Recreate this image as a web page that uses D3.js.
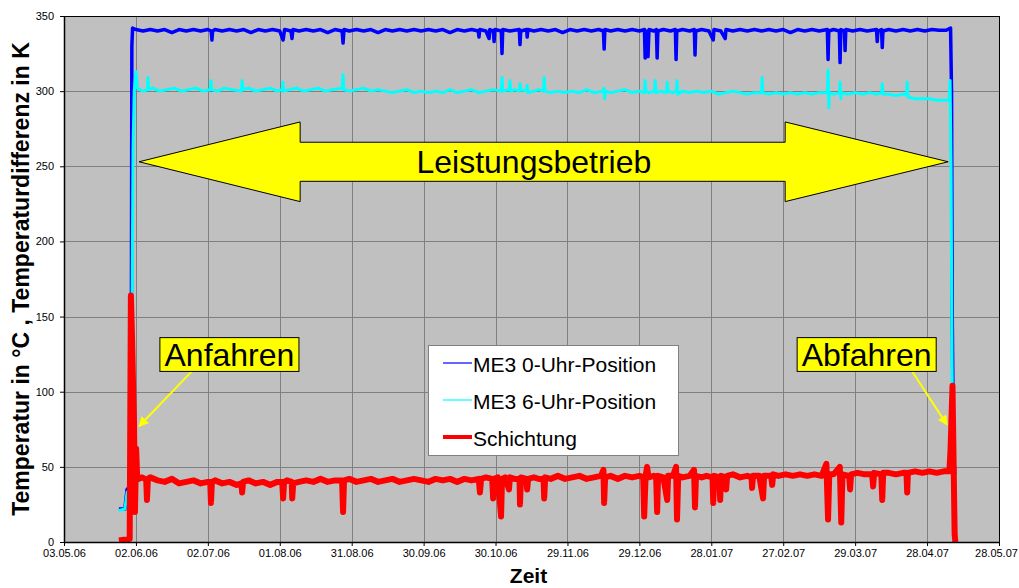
<!DOCTYPE html>
<html>
<head>
<meta charset="UTF-8">
<title></title>
<script src="https://cdn.jsdelivr.net/npm/d3@7/dist/d3.min.js"></script>
<style>
  body { margin: 0; background: #fff; }
  text { font-family: Arial, "Liberation Sans", sans-serif; }
</style>
</head>
<body>
<div id="chart"></div>
<script>
// Daten: [Tag seit 03.05.06, Wert]
var startDatum = "03.05.06";
var xTickLabels = ["03.05.06","02.06.06","02.07.06","01.08.06","31.08.06","30.09.06","30.10.06",
  "29.11.06","29.12.06","28.01.07","27.02.07","29.03.07","28.04.07","28.05.07"];
var yTicks = [0, 50, 100, 150, 200, 250, 300, 350];
var seriesNames = ["ME3 0-Uhr-Position", "ME3 6-Uhr-Position", "Schichtung"];

var me3_0Uhr = [[22.9,22],[25.4,22],[26.3,35],[27.5,37],[28,40],[28.3,330],[28.6,342],[30,341],[33,340],[36,341],[39,340],[42,341],[45,339],[48,341],[51,340],[54,341],[57,340],[60,341],[61.4,340],[61.7,334],[62,340],[63,341],[66,340],[69,341],[72,340],[75,341],[78,339],[81,341],[84,340],[87,341],[90,340],[91.4,334],[92,341],[94.7,340],[95.1,335],[95.5,341],[98,340],[101,341],[104,340],[107,341],[110,339],[113,341],[116,340],[116.4,332],[116.8,341],[119,340],[122,341],[125,340],[128,341],[131,339],[134,341],[137,340],[140,341],[143,340],[146,341],[149,340],[152,341],[155,340],[158,341],[161,339],[164,341],[167,340],[170,341],[172.8,340],[173.1,336],[173.4,341],[176,340],[177.3,335],[177.6,341],[179.1,340],[179.4,333],[179.7,341],[182.4,340],[182.7,325],[183,341],[186,340],[189.9,341],[190.2,331],[190.5,340],[193,341],[193.2,336],[193.5,341],[196,340],[199,341],[202,340],[205,341],[208,339],[211,341],[214,340],[217,341],[220,340],[223,341],[225,340],[225.3,328],[225.6,341],[228,340],[231,341],[234,340],[237,341],[240,340],[242.1,341],[242.4,322],[242.8,340],[243.6,323],[244,341],[246,340],[247.1,341],[247.4,322],[247.7,340],[250,341],[253,340],[255,341],[255.3,321],[255.6,340],[258,341],[261,340],[262.9,341],[263.2,324],[263.5,340],[266,341],[269,340],[270.8,334],[271.1,341],[274,340],[275.8,335],[276.1,341],[279,340],[282,341],[285,340],[288,341],[291,340],[294,341],[297,340],[300,341],[303,339],[306,341],[309,340],[312,341],[315,340],[318.4,341],[318.7,321],[319,340],[321,341],[323.4,340],[323.7,319],[324,341],[325.5,340],[325.8,327],[326.1,341],[329,340],[332,341],[335,340],[338.9,341],[339.2,333],[339.5,340],[341,341],[341.3,329],[341.6,340],[344,341],[347,340],[350,341],[353,340],[356,341],[359,340],[362,341],[365,340.5],[368,340.5],[369.8,342],[370.2,300],[370.5,150],[371,60],[371.6,45]];

var me3_6Uhr = [[22.9,21],[25.4,22],[26.3,33],[27.5,35],[28,38],[28.4,160],[28.8,262],[29.3,300],[30,313],[30.6,302],[31.5,301],[33,300],[34.8,301],[35,309],[35.3,301],[37,302],[40,300],[43,301],[46,302],[49,300],[52,301],[55,302],[58,300],[61,301],[61.3,307],[61.6,301],[64,300],[67,302],[70,301],[74,300],[74.3,307],[74.6,301],[77,302],[80,300],[83,301],[86,302],[89,300],[91,301],[91.3,306],[91.6,300],[94,301],[97,302],[100,300],[103,301],[106,302],[109,300],[112,301],[116.1,302],[116.4,311],[116.7,301],[119,300],[122,301],[125,302],[128,300],[131,301],[134,300],[137,299],[140,300],[143,301],[146,299],[149,300],[152,299],[155,300],[158,299],[161,301],[164,299],[167,300],[170,301],[173,299],[176,300],[179,301],[182.4,300],[182.7,309],[183,300],[185.7,301],[186,307],[186.3,300],[188,301],[190,300],[190.2,305],[190.5,301],[193,300],[193.2,304],[193.5,299],[196,300],[198,301],[200,300],[200.3,309],[200.6,300],[203,299],[206,300],[209,299],[212,300],[215,299],[218,301],[221,299],[225,300],[225.2,302],[225.5,295],[225.8,300],[228,299],[231,300],[234,301],[237,299],[240,300],[242.1,299],[242.4,307],[242.7,300],[244,299],[246.3,300],[246.6,307],[246.9,299],[249,300],[251.3,299],[251.6,306],[251.9,300],[254,299],[255.4,300],[255.7,307],[256,298],[258,300],[261,299],[264,300],[267,299],[270,300],[273,298],[276,299],[279,300],[282,299],[285,298],[288,299],[291,299],[291.2,309],[291.5,299],[294,298],[297,299],[300,298],[303,299],[306,298],[309,299],[312,298],[315,299],[318.4,299],[318.7,314],[319,289],[319.3,299],[321,298],[323.5,299],[323.7,306],[324,295],[324.3,299],[327,298],[330,299],[333,298],[336,299],[339,298],[341.1,299],[341.3,305],[341.6,298],[344,298],[347,297],[350,298],[351.5,298],[351.7,306],[352,296],[355,295],[358,295],[361,295],[364,294],[367,294],[369.2,294],[369.6,307],[370,250],[370.4,120],[370.8,60],[371.6,45]];

var schichtung = [[22.9,1],[25,1.5],[27.4,2],[27.9,164],[28.4,135],[28.8,105],[29.2,80],[29.6,20],[30.1,62],[30.5,44],[31.3,42],[32.5,43],[33.8,42],[34.3,41],[34.6,28],[35,42],[36,43],[39,41],[42,40],[45,42],[48,39],[51,40],[54,41],[57,39],[60,40],[61,40],[61.3,26],[61.7,40],[63,41],[66,39],[69,40],[72,38],[74,39],[74.3,33],[74.7,40],[77,41],[80,39],[83,40],[86,38],[89,40],[91,40],[91.4,29],[91.8,40],[93,41],[95,40],[95.2,29],[95.6,39],[98,40],[101,41],[104,40],[107,42],[110,40],[113,41],[116,41],[116.4,20],[116.8,41],[119,42],[122,40],[125,41],[128,42],[131,40],[134,41],[137,42],[140,40],[143,41],[146,42],[149,41],[152,40],[155,42],[158,41],[161,42],[164,40],[167,42],[170,41],[173,42],[173.5,33],[174,42],[176,43],[178.6,42],[179,29],[179.4,42],[181,43],[182.3,17],[182.7,42],[184,43],[185.6,35],[186,43],[188,42],[190,42],[190.2,25],[190.6,43],[192.8,42],[193.2,35],[193.6,42],[196,43],[198,42],[200,42],[200.3,29],[200.7,43],[203,42],[206,44],[209,42],[212,43],[215,44],[218,42],[221,43],[224,44],[225,48],[225.3,26],[225.7,43],[228,44],[231,42],[234,44],[237,43],[240,44],[241.6,43],[242,17],[242.6,44],[243.2,50],[243.8,43],[246,44],[247,43],[247.4,20],[247.8,44],[250,43],[251.6,28],[252,44],[254,44],[255.3,50],[255.7,15],[256.2,44],[258,43],[261,44],[262.8,48],[263.2,23],[263.6,44],[266,43],[268,44],[270.5,43],[270.8,26],[271.2,44],[273.3,43],[273.7,28],[274.1,44],[276,43],[276.2,35],[276.6,44],[279,45],[282,43],[285,44],[286.8,43],[287,36],[287.4,44],[290,44],[291.6,29],[292,44],[295,44],[295.4,38],[295.8,45],[298,44],[301,45],[304,44],[307,45],[310,44],[313,45],[316,44],[318,52],[318.7,15],[319.2,45],[321,45],[323.6,50],[324.2,13],[324.7,45],[327.5,44],[327.9,35],[328.3,45],[331,46],[334,45],[337.1,45],[337.5,37],[337.9,46],[340.9,45],[341.3,28],[341.7,46],[344,46],[347,45],[350,46],[351.4,46],[351.7,33],[352,46],[355,47],[358,46],[361,47],[364,46],[367,47],[369.3,47],[369.8,62],[370.6,104],[371,60],[371.5,5],[371.8,0]];

var width = 1019, height = 588;
var margin = {left: 64, top: 16, right: 20, bottom: 46};
var pw = width - margin.left - margin.right;
var ph = height - margin.top - margin.bottom;

var parse = d3.utcParse("%d.%m.%y");
var t0 = parse(startDatum);
function tagZuDatum(t) { return new Date(t0.getTime() + t * 864e5); }

var svg = d3.select("#chart").append("svg")
  .attr("width", width).attr("height", height);

var x = d3.scaleUtc()
  .domain([parse(xTickLabels[0]), parse(xTickLabels[xTickLabels.length - 1])])
  .range([0, pw]);
var y = d3.scaleLinear().domain([0, 350]).range([ph, 0]);

var g = svg.append("g").attr("transform", "translate(" + margin.left + "," + margin.top + ")");

// Hintergrund
g.append("rect").attr("width", pw).attr("height", ph).attr("fill", "#c0c0c0");

// Gitter
g.append("g").selectAll("line").data(xTickLabels.map(parse)).enter().append("line")
  .attr("x1", function(d){ return Math.round(x(d)) + 0.5; })
  .attr("x2", function(d){ return Math.round(x(d)) + 0.5; })
  .attr("y1", 0).attr("y2", ph)
  .attr("stroke", "#808080").attr("stroke-width", 1);
g.append("g").selectAll("line").data(yTicks).enter().append("line")
  .attr("y1", function(d){ return Math.round(y(d)) + 0.5; })
  .attr("y2", function(d){ return Math.round(y(d)) + 0.5; })
  .attr("x1", 0).attr("x2", pw)
  .attr("stroke", "#808080").attr("stroke-width", 1);

svg.append("clipPath").attr("id", "clip").append("rect")
  .attr("width", pw).attr("height", ph);

var line = d3.line()
  .x(function(d){ return x(tagZuDatum(d[0])); })
  .y(function(d){ return y(d[1]); });

var lines = g.append("g").attr("clip-path", "url(#clip)");
lines.append("path").datum(me3_0Uhr).attr("d", line)
  .attr("fill", "none").attr("stroke", "#0000ff").attr("stroke-width", 3.5).attr("stroke-linejoin", "round");
lines.append("path").datum(me3_6Uhr).attr("d", line)
  .attr("fill", "none").attr("stroke", "#00ffff").attr("stroke-width", 3).attr("stroke-linejoin", "round");
lines.append("path").datum(schichtung).attr("d", line)
  .attr("fill", "none").attr("stroke", "#ff0000").attr("stroke-width", 6).attr("stroke-linejoin", "round");

// Rahmen
g.append("rect").attr("x", 0.5).attr("y", 0.5).attr("width", pw).attr("height", ph)
  .attr("fill", "none").attr("stroke", "#000").attr("stroke-width", 1);

// Achsen
var xAxis = d3.axisBottom(x).tickValues(xTickLabels.map(parse))
  .tickFormat(function(d, i){ return xTickLabels[i]; })
  .tickSize(4).tickSizeOuter(0).tickPadding(3);
var xg = g.append("g").attr("transform", "translate(0," + ph + ")").call(xAxis);
var yAxis = d3.axisLeft(y).tickValues(yTicks).tickSize(4).tickSizeOuter(0).tickPadding(6);
var yg = g.append("g").call(yAxis);
[xg, yg].forEach(function(a){
  a.selectAll("text").attr("font-size", 11).attr("fill", "#000")
    .attr("font-family", "Arial, 'Liberation Sans', sans-serif");
  a.select(".domain").attr("stroke", "#000").attr("stroke-width", 1.5);
});
// letzte Beschriftung etwas nach links, damit sie ins Bild passt
xg.selectAll(".tick text").filter(function(d, i){ return i === xTickLabels.length - 1; })
  .attr("dx", -3);

// Achsentitel
svg.append("text").attr("x", margin.left + pw / 2 - 3).attr("y", 583)
  .attr("text-anchor", "middle").attr("font-size", 21).attr("font-weight", "bold").text("Zeit");
svg.append("text").attr("transform", "translate(29," + (margin.top + ph / 2) + ") rotate(-90)")
  .attr("text-anchor", "middle").attr("font-size", 23).attr("font-weight", "bold")
  .text("Temperatur in °C , Temperaturdifferenz in K");

// Doppelpfeil Leistungsbetrieb
var pfeil = [[31.3,253],[98.5,279.5],[98.5,266],[300.8,266],[300.8,279.5],[368.8,253],
  [300.8,226.5],[300.8,240],[98.5,240],[98.5,226.5]];
g.append("polygon")
  .attr("points", pfeil.map(function(p){ return x(tagZuDatum(p[0])) + "," + y(p[1]); }).join(" "))
  .attr("fill", "#ffff00").attr("stroke", "#000").attr("stroke-width", 1);
g.append("text").attr("x", x(tagZuDatum(196))).attr("y", y(253) + 11)
  .attr("text-anchor", "middle").attr("font-size", 32).text("Leistungsbetrieb");

// Anfahren / Abfahren
var marker = svg.append("defs").append("marker").attr("id", "pfeilspitze")
  .attr("viewBox", "0 0 10 10").attr("refX", 9).attr("refY", 5)
  .attr("markerWidth", 12).attr("markerHeight", 10).attr("orient", "auto")
  .attr("markerUnits", "userSpaceOnUse");
marker.append("path").attr("d", "M0,0 L10,5 L0,10 Z").attr("fill", "#ffff00");

var labels = [
  {text: "Anfahren", box: [40, 136, 98, 113.5], from: [53.3, 113.5], to: [31.3, 77]},
  {text: "Abfahren", box: [305.8, 136, 363.8, 113.5], from: [353.8, 113.5], to: [368.3, 78]}
];
labels.forEach(function(l){
  var x0 = x(tagZuDatum(l.box[0])), x1 = x(tagZuDatum(l.box[2]));
  var y0 = y(l.box[1]), y1 = y(l.box[3]);
  g.append("line")
    .attr("x1", x(tagZuDatum(l.from[0]))).attr("y1", y(l.from[1]))
    .attr("x2", x(tagZuDatum(l.to[0]))).attr("y2", y(l.to[1]))
    .attr("stroke", "#ffff00").attr("stroke-width", 2).attr("marker-end", "url(#pfeilspitze)");
  g.append("rect").attr("x", x0).attr("y", y0).attr("width", x1 - x0).attr("height", y1 - y0)
    .attr("fill", "#ffff00").attr("stroke", "#000").attr("stroke-width", 1);
  g.append("text").attr("x", (x0 + x1) / 2).attr("y", y1 - 5)
    .attr("text-anchor", "middle").attr("font-size", 32).text(l.text);
});

// Legende
var lg = svg.append("g").attr("transform", "translate(428,345)");
lg.append("rect").attr("x", 0.5).attr("y", 0.5).attr("width", 250).attr("height", 110)
  .attr("fill", "#fff").attr("stroke", "#808080").attr("stroke-width", 1);
var legColors = ["#0000ff", "#00ffff", "#ff0000"];
var legWidths = [1.2, 1.2, 4];
seriesNames.forEach(function(n, i){
  var yy = 18 + i * 37;
  lg.append("line").attr("x1", 15).attr("x2", 44).attr("y1", yy).attr("y2", yy)
    .attr("stroke", legColors[i]).attr("stroke-width", legWidths[i]);
  lg.append("text").attr("x", 45).attr("y", yy + 9).attr("font-size", 21).text(n);
});
</script>
</body>
</html>
